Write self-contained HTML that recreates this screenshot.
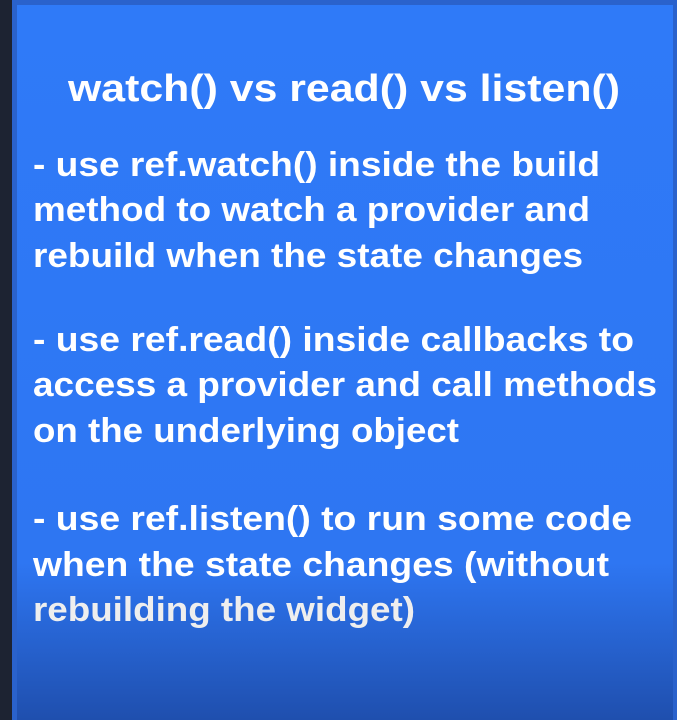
<!DOCTYPE html>
<html><head><style>
html,body{margin:0;padding:0;width:677px;height:720px;overflow:hidden;background:#1c2230;}
svg{display:block}
</style></head><body>
<svg width="677" height="720" xmlns="http://www.w3.org/2000/svg">
<defs>
<linearGradient id="g" x1="0" y1="0" x2="0" y2="1">
<stop offset="0" stop-color="#2f7af8"/>
<stop offset="0.78" stop-color="#2e76f2"/>
<stop offset="1" stop-color="#1f4fae"/>
</linearGradient>
</defs>
<rect x="0" y="0" width="677" height="720" fill="#1d2332"/>
<rect x="12" y="0" width="665" height="720" fill="#2a62cc"/>
<rect x="17" y="5" width="656" height="715" fill="url(#g)"/>
<g font-family="Liberation Sans, sans-serif" font-weight="bold" fill="#ffffff">
<text x="68" y="101" font-size="38" textLength="552" lengthAdjust="spacingAndGlyphs">watch() vs read() vs listen()</text>
<g font-size="34">
<text x="33" y="176" textLength="567" lengthAdjust="spacingAndGlyphs">- use ref.watch() inside the build</text>
<text x="33" y="221" textLength="557" lengthAdjust="spacingAndGlyphs">method to watch a provider and</text>
<text x="33" y="267" textLength="550" lengthAdjust="spacingAndGlyphs">rebuild when the state changes</text>
<text x="33" y="351" textLength="601" lengthAdjust="spacingAndGlyphs">- use ref.read() inside callbacks to</text>
<text x="33" y="396" textLength="624" lengthAdjust="spacingAndGlyphs">access a provider and call methods</text>
<text x="33" y="442" textLength="426" lengthAdjust="spacingAndGlyphs">on the underlying object</text>
<text x="33" y="530" textLength="599" lengthAdjust="spacingAndGlyphs">- use ref.listen() to run some code</text>
<text x="33" y="576" textLength="576" lengthAdjust="spacingAndGlyphs">when the state changes (without</text>
<text x="33" y="621" textLength="382" lengthAdjust="spacingAndGlyphs" fill="#eeeeee">rebuilding the widget)</text>
</g>
</g>
</svg>
</body></html>
